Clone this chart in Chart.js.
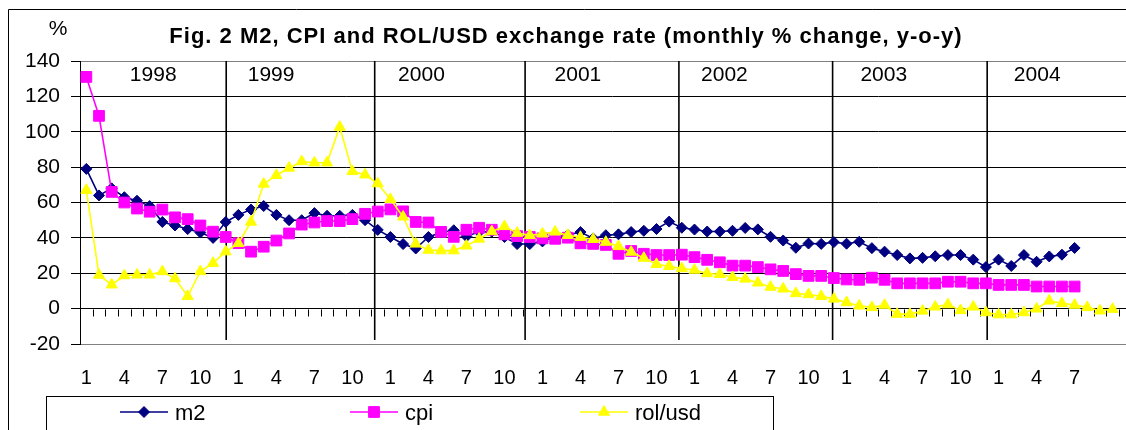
<!DOCTYPE html>
<html><head><meta charset="utf-8">
<script src="https://cdn.jsdelivr.net/npm/chart.js@4/dist/chart.umd.min.js"></script>
<style>
html,body{margin:0;padding:0;background:#fff;overflow:hidden;width:1126px;height:430px}
canvas{display:block;position:absolute;left:0;top:0}
</style></head>
<body><canvas id="c" width="1160" height="430"></canvas>
<script>
// ---- data ----
const YEARS = [1998, 1999, 2000, 2001, 2002, 2003, 2004];
const MONTHS = [1, 2, 3, 4, 5, 6, 7, 8, 9, 10, 11, 12];
const TICK_MONTHS = [1, 4, 7, 10];
const LAST_LABELED = 80; // month labels past this index are cut off in the reference
const SERIES_NAMES = ['m2', 'cpi', 'rol/usd'];
const M2 = [79,64,68,63,61,58,49,47,45,43,40,49,
  53,56,58,53,50,50,54,52.5,52.5,53,50,44.5,
  40.5,36.5,34,40.5,43,44.3,40.8,43.4,43.5,40.5,36.5,36.5,
  38,40.5,41.6,43.3,39.7,41.5,42,43.3,44,45,49.2,45.7,
  44.7,43.6,43.6,44,45.6,44.8,40.6,38.5,34.4,36.8,36.6,37.6,
  36.7,37.8,34.2,32.2,30.3,28.4,28.7,29.6,30.3,30.3,27.7,23.5,
  27.7,24.1,30.3,26.5,29.5,30.5,34.3];
const CPI = [131,109,66,60,56.6,54.8,56,51.6,50.6,47,43.5,40.5,
  37,32.2,35,38.5,42.5,47.5,48.7,49.5,49.5,50.6,53.6,54.9,
  56.1,55,49,48.7,43.4,40.6,44.6,45.7,44.6,42,41,40.5,
  39.7,39.5,40.1,36.9,36.6,36,31,32.6,31,30.3,30.3,30.5,
  29.1,27.6,26.2,24.3,24.3,23.5,22.2,21.3,19.5,18.5,18.5,17.3,
  16.5,16.3,17.5,16.3,14.3,14.3,14.3,14.3,15.2,15.2,14.3,14.3,
  13.4,13.4,13.4,12.5,12.5,12.5,12.5];
const ROL_USD = [67,19,13.5,18.7,19.1,19.1,21,17,7,21,25.7,32.2,
  36.9,49,70.5,75.4,79.5,83.2,82.5,82.5,102.7,77.6,75.7,70.7,
  61.8,51.9,36.6,33.1,32.8,32.8,35.5,39.4,43.6,46.5,42.7,41.4,
  42.3,43.4,41.5,40.4,39.2,37.6,35.2,32,28.6,25.1,24,22.7,
  21.8,19.9,19.4,17.7,16.8,14.6,12.2,11.2,8.6,8,7,5.5,
  3.5,1.6,0.7,2,-3.1,-3.1,-1.3,1,2.3,-1,1,-2.2,
  -3.4,-3.4,-2.2,-0.1,4.4,3,2,0.7,-1.2,-0.3];
const Y_MIN = -20, Y_MAX = 140, Y_STEP = 20;
const TITLE = 'Fig. 2 M2, CPI and ROL/USD exchange rate (monthly % change, y-o-y)';
const Y_UNIT = '%';

// ---- layout / annotation positions (in category units) ----
const YEAR_LINE_AT = [11.04, 22.76, 34.63, 46.77, 58.9, 71.1];
const YEAR_LABEL_AT = [5.28, 14.58, 26.45, 38.8, 50.36, 62.94, 75.05];
const LEGEND_X = [120, 350, 580];

const categories = YEARS.flatMap(y => MONTHS.map(m => String(m)));
const FONT = '"Liberation Sans", Arial, sans-serif';
const COLORS = ['#000080', '#FF00FF', '#FFFF00'];

function marker(ctx, kind, cx, cy, color) {
  ctx.fillStyle = color; ctx.strokeStyle = color; ctx.lineWidth = 1;
  ctx.beginPath();
  if (kind === 0) { const r = 5.5; ctx.moveTo(cx - r, cy); ctx.lineTo(cx, cy - r); ctx.lineTo(cx + r, cy); ctx.lineTo(cx, cy + r); }
  else if (kind === 1) { const h = 5.4; ctx.rect(cx - h, cy - h, 2 * h, 2 * h); }
  else { const r = 6.4; ctx.moveTo(cx, cy - r); ctx.lineTo(cx + r * 0.866, cy + r / 2); ctx.lineTo(cx - r * 0.866, cy + r / 2); }
  ctx.closePath(); ctx.fill(); ctx.stroke();
}

const deco = {
  id: 'deco',
  beforeDraw(chart) {
    const ctx = chart.ctx;
    ctx.save();
    ctx.fillStyle = '#fff'; ctx.fillRect(0, 0, chart.width, chart.height);
    ctx.strokeStyle = '#000'; ctx.lineWidth = 1;
    ctx.beginPath(); ctx.moveTo(8.5, 440); ctx.lineTo(8.5, 9.5); ctx.lineTo(chart.width, 9.5); ctx.stroke();
    ctx.fillStyle = '#000';
    ctx.font = 'bold 22px ' + FONT;
    ctx.textAlign = 'center'; ctx.textBaseline = 'alphabetic';
    try { ctx.letterSpacing = '1px'; } catch (e) {}
    ctx.fillText(TITLE, 566, 43);
    try { ctx.letterSpacing = '0px'; } catch (e) {}
    ctx.font = '21px ' + FONT;
    ctx.fillText(Y_UNIT, 58, 35);
    ctx.restore();
  },
  beforeDatasetsDraw(chart) {
    const { ctx, chartArea: a, scales: { x, y } } = chart;
    ctx.save();
    const y0 = Math.round(y.getPixelForValue(0)) + 0.5;
    ctx.strokeStyle = '#000'; ctx.lineWidth = 1;
    ctx.beginPath();
    for (let i = 0; i < categories.length; i++) {
      const px = Math.round(x.getPixelForValue(i + 0.5)) + 0.5;
      ctx.moveTo(px, y0); ctx.lineTo(px, y0 + 7);
    }
    ctx.stroke();
    ctx.lineWidth = 1.6;
    ctx.beginPath();
    YEAR_LINE_AT.forEach(v => { const px = x.getPixelForValue(v); ctx.moveTo(px, a.top); ctx.lineTo(px, a.bottom - 4); });
    ctx.stroke();
    ctx.fillStyle = '#000';
    ctx.font = '21px ' + FONT; ctx.textAlign = 'center'; ctx.textBaseline = 'middle';
    YEARS.forEach((yr, k) => ctx.fillText(String(yr), x.getPixelForValue(YEAR_LABEL_AT[k]), a.top + 14));
    ctx.restore();
  },
  afterDraw(chart) {
    const ctx = chart.ctx;
    ctx.save();
    ctx.strokeStyle = '#000'; ctx.lineWidth = 1;
    ctx.strokeRect(46.5, 396.5, 727, 80);
    const ly = 412;
    SERIES_NAMES.forEach((name, k) => {
      const x0 = LEGEND_X[k];
      ctx.strokeStyle = COLORS[k]; ctx.lineWidth = 1.6;
      ctx.beginPath(); ctx.moveTo(x0, ly); ctx.lineTo(x0 + 48, ly); ctx.stroke();
      marker(ctx, k, x0 + 24, ly, COLORS[k]);
      ctx.fillStyle = '#000'; ctx.font = '22px ' + FONT;
      ctx.textAlign = 'left'; ctx.textBaseline = 'alphabetic';
      ctx.fillText(name, x0 + 55, 420);
    });
    ctx.restore();
  }
};

const mk = (k, data, style, radius, order) => ({
  label: SERIES_NAMES[k], data,
  borderColor: COLORS[k], backgroundColor: COLORS[k], borderWidth: 1.6,
  pointStyle: style, pointRadius: radius, pointBorderWidth: 1,
  pointBackgroundColor: COLORS[k], pointBorderColor: COLORS[k],
  tension: 0, order
});

new Chart(document.getElementById('c'), {
  type: 'line',
  data: {
    labels: categories,
    datasets: [
      mk(0, M2, 'rectRot', 5.5, 3),
      mk(1, CPI, 'rect', 7.6, 2),
      mk(2, ROL_USD, 'triangle', 6.4, 1)
    ]
  },
  options: {
    responsive: false, animation: false, events: [],
    layout: { padding: { left: 0, top: 61, right: 4.8, bottom: 0 } },
    plugins: { legend: { display: false }, title: { display: false }, tooltip: { enabled: false } },
    scales: {
      x: {
        type: 'category', offset: true,
        grid: { display: false, drawTicks: false },
        border: { display: true, color: '#808080', width: 1 },
        ticks: {
          autoSkip: false, maxRotation: 0, minRotation: 0, padding: 22,
          color: '#000', font: { family: FONT, size: 20 },
          callback: (v, i) => (TICK_MONTHS.includes(MONTHS[i % 12]) && i <= LAST_LABELED) ? categories[i] : ''
        },
        afterFit: s => { s.height = 86; }
      },
      y: {
        min: Y_MIN, max: Y_MAX,
        grid: {
          color: c => (c.tick && (c.tick.value === Y_MAX || c.tick.value === Y_MIN)) ? '#808080' : '#000',
          tickColor: '#000', tickLength: 9, lineWidth: 1
        },
        border: { display: true, color: '#000', width: 1 },
        ticks: { stepSize: Y_STEP, padding: 11, color: '#000', font: { family: FONT, size: 21 } },
        afterFit: s => { s.width = 80; }
      }
    }
  },
  plugins: [deco]
});
</script>
</body></html>
